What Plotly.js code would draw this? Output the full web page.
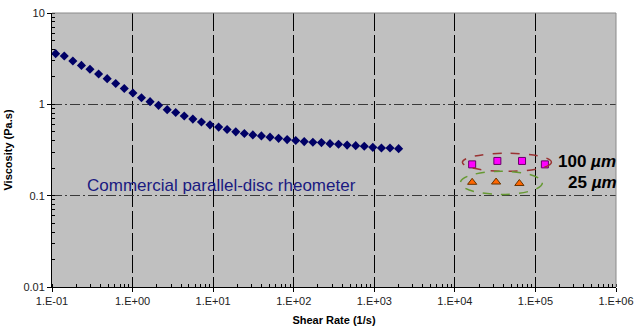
<!DOCTYPE html>
<html>
<head>
<meta charset="utf-8">
<script src="https://cdn.plot.ly/plotly-3.0.1.min.js"></script>
<style>html,body{margin:0;padding:0;background:#fff;}#chart{width:636px;height:336px;}</style>
</head>
<body>
<div id="chart"></div>
<script>
// Commercial parallel-disc rheometer
const rheoShear = [0.111,0.142,0.1815,0.232,0.296,0.379,0.484,0.618,0.789,1.01,1.29,1.65,2.10,2.69,3.43,4.38,5.60,7.16,9.14,11.7,14.9,19.1,24.4,31.1,39.7,50.8,64.9,82.9,106,135,173,221,282,360,460,588,751,959,1227,1567,2005];
const rheoVisc = [3.59,3.38,2.98,2.67,2.42,2.15,1.91,1.69,1.49,1.33,1.18,1.07,0.975,0.875,0.813,0.744,0.689,0.640,0.596,0.563,0.531,0.500,0.480,0.463,0.451,0.437,0.424,0.411,0.402,0.391,0.385,0.381,0.371,0.365,0.358,0.353,0.347,0.338,0.332,0.332,0.327];
// 100 um gap
const gap100Shear = [16400,33700,68200,131000];
const gap100Visc = [0.220,0.240,0.240,0.220];
// 25 um gap
const gap25Shear = [16400,32500,63200];
const gap25Visc = [0.140,0.141,0.136];

const xTickVals = [0.1,1,10,100,1000,10000,100000,1000000];
const xTickText = ['1.E-01','1.E+00','1.E+01','1.E+02','1.E+03','1.E+04','1.E+05','1.E+06'];
const yTickVals = [0.01,0.1,1,10];
const yTickText = ['0.01','0.1','1','10'];

const labelRheo = 'Commercial parallel-disc rheometer';
const label100 = '<b>100 <i>µm</i></b>';
const label25 = '<b>25 <i>µm</i></b>';

const font = 'Arial, "Liberation Sans", sans-serif';

const traces = [
  {x: rheoShear, y: rheoVisc, type: 'scatter', mode: 'markers',
   marker: {symbol: 'diamond', size: 7, color: '#000066', line: {width: 0}}},
  {x: gap100Shear, y: gap100Visc, type: 'scatter', mode: 'markers',
   marker: {symbol: 'square', size: 7, color: '#ff00ff', line: {width: 1, color: '#660066'}}},
  {x: gap25Shear, y: gap25Visc, type: 'scatter', mode: 'markers',
   marker: {symbol: 'triangle-up', size: 8, color: '#ff6600', line: {width: 1, color: '#663300'}}}
];

const layout = {
  width: 636, height: 336,
  margin: {l: 52, r: 20, t: 13, b: 49},
  paper_bgcolor: '#ffffff',
  plot_bgcolor: '#c0c0c0',
  showlegend: false,
  font: {family: font, size: 11, color: '#222'},
  xaxis: {
    type: 'log', range: [-1, 6],
    tickmode: 'array', tickvals: xTickVals, ticktext: xTickText,
    ticks: 'outside', ticklen: 4, tickcolor: '#000', tickwidth: 1,
    tickfont: {family: font, size: 11, color: '#222'},
    showline: true, linecolor: '#000', linewidth: 1,
    showgrid: true, gridcolor: '#000', gridwidth: 1, griddash: '18px,4px',
    minor: {dtick: 'D1', ticks: 'inside', ticklen: 3, tickcolor: '#000', showgrid: false},
    title: {text: '<b>Shear Rate (1/s)</b>', font: {family: font, size: 11, color: '#000'}, standoff: 10},
    zeroline: false, fixedrange: true
  },
  yaxis: {
    type: 'log', range: [-2, 1],
    tickmode: 'array', tickvals: yTickVals, ticktext: yTickText,
    ticks: 'outside', ticklen: 4, tickcolor: '#000', tickwidth: 1,
    tickfont: {family: font, size: 11, color: '#222'},
    showline: true, linecolor: '#000', linewidth: 1,
    showgrid: true, gridcolor: '#3a3a3a', gridwidth: 1, griddash: '10px,3px,2px,3px',
    minor: {dtick: 'D1', ticks: 'inside', ticklen: 3, tickcolor: '#000', showgrid: false},
    title: {text: '<b>Viscosity (Pa.s)</b>', font: {family: font, size: 11, color: '#000'}, standoff: 8},
    zeroline: false, fixedrange: true
  },
  shapes: [
    {type: 'circle', xref: 'x', yref: 'y', x0: 12400, x1: 158000, y0: 0.1846, y1: 0.291,
     line: {color: '#993333', width: 1.5, dash: 'dash'}, fillcolor: 'rgba(0,0,0,0)'},
    {type: 'circle', xref: 'x', yref: 'y', x0: 11700, x1: 122000, y0: 0.1033, y1: 0.1846,
     line: {color: '#669933', width: 1.5, dash: 'dash'}, fillcolor: 'rgba(0,0,0,0)'},
    {type: 'line', xref: 'paper', yref: 'paper', x0: 0, x1: 1, y0: 1, y1: 1, layer: 'above',
     line: {color: '#8a8a8a', width: 1}},
    {type: 'line', xref: 'paper', yref: 'paper', x0: 1, x1: 1, y0: 0, y1: 1, layer: 'above',
     line: {color: '#8a8a8a', width: 1}}
  ],
  annotations: [
    {xref: 'x', yref: 'y', x: 1.108, y: -0.887, text: labelRheo, showarrow: false,
     xanchor: 'center', yanchor: 'middle', font: {family: font, size: 17, color: '#1a1a80'}},
    {xref: 'x', yref: 'y', x: 5.26, y: -0.621, text: label100, showarrow: false,
     xanchor: 'left', yanchor: 'middle', font: {family: font, size: 17, color: '#000'}},
    {xref: 'x', yref: 'y', x: 5.385, y: -0.854, text: label25, showarrow: false,
     xanchor: 'left', yanchor: 'middle', font: {family: font, size: 17, color: '#000'}}
  ]
};

Plotly.newPlot('chart', traces, layout, {displayModeBar: false, staticPlot: true});
</script>
</body>
</html>
